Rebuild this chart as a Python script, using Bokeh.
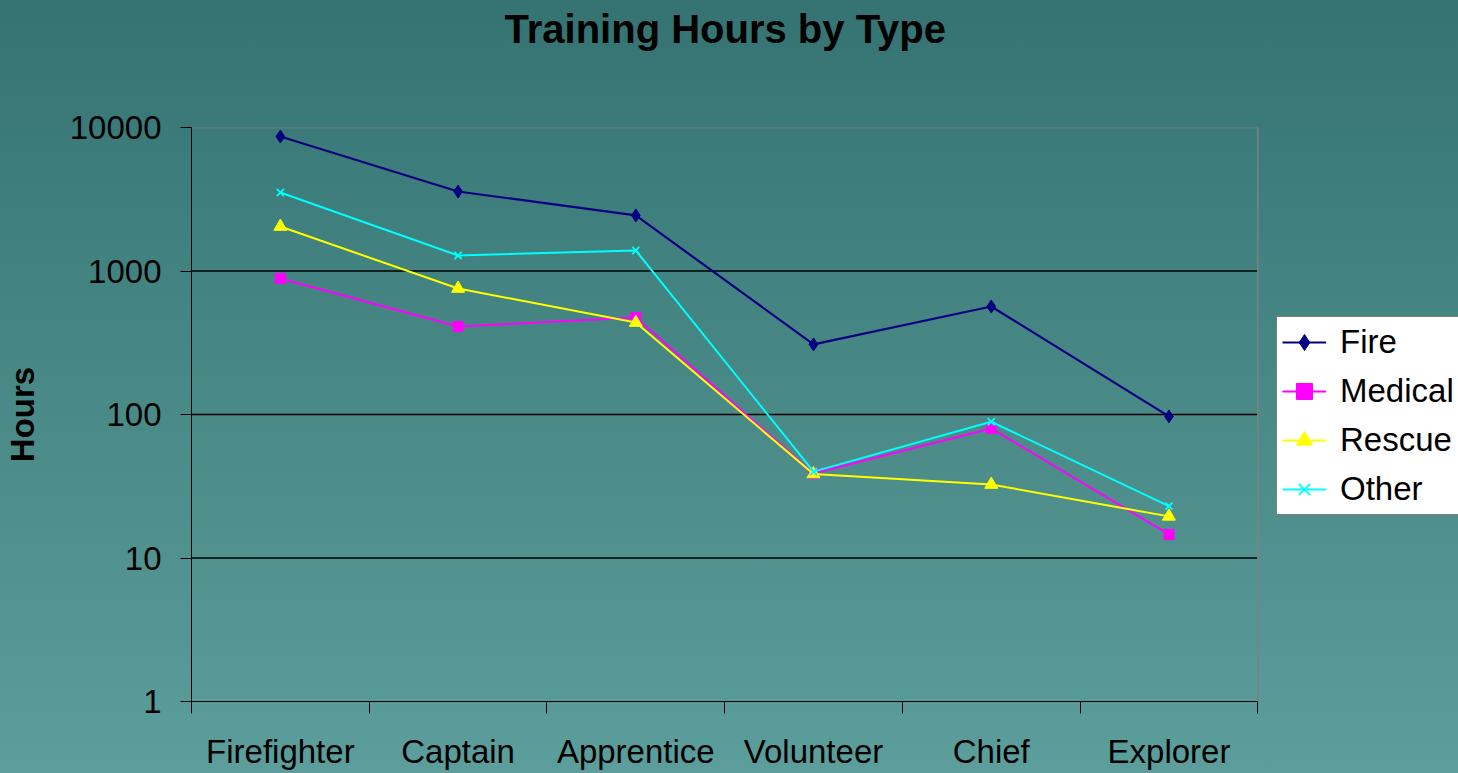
from bokeh.plotting import figure
from bokeh.models import (Range1d, FixedTicker, Legend, LegendItem, Title)
from bokeh.embed import file_html
from bokeh.resources import INLINE

categories = ["Firefighter", "Captain", "Apprentice", "Volunteer", "Chief", "Explorer"]
fire = [8650, 3580, 2440, 308, 566, 97]
medical = [887, 410, 474, 38.8, 80, 14.6]
rescue = [2040, 755, 437, 38.5, 32.5, 19.5]
other = [3525, 1283, 1390, 40, 89, 23]
y_ticks = [1, 10, 100, 1000, 10000]
grid_ticks = [10, 100, 1000]

n = len(categories)
xs = [i + 0.5 for i in range(n)]

# frame spans page x 189..1458; category area is 189..1257 (1068 px for n categories)
W, H = 1458, 773
FL, FT, FB, CAT_R = 189, 127, 701, 1257
x_end = n * (W - FL) / (CAT_R - FL)

p = figure(width=W, height=H, output_backend="svg", toolbar_location=None,
           y_axis_type="log", x_range=Range1d(0, x_end), y_range=Range1d(1, 10000),
           min_border_left=FL, min_border_right=0, min_border_top=0,
           min_border_bottom=H - FB)
p.margin = 0
p.styles = {"background": "linear-gradient(to bottom, #347371, #5c9e9b)"}
p.background_fill_alpha = 0
p.border_fill_alpha = 0
p.outline_line_color = None

p.title = Title(text="Training Hours by Type", align="left", offset=313,
                text_font="Liberation Sans", text_font_size="40px", text_font_style="bold",
                text_color="black", standoff=8)
spacer = Title(text=" ", text_font="Liberation Sans", text_font_size="40px",
               text_font_style="bold", standoff=27)
p.add_layout(spacer, "above")

# x axis (limited to the category area)
p.xaxis.bounds = (0, n)
p.xaxis.ticker = FixedTicker(ticks=xs, minor_ticks=list(range(n + 1)))
p.xaxis.major_label_overrides = {x: c for x, c in zip(xs, categories)}
p.xaxis.major_tick_line_color = None
p.xaxis.major_tick_out = 12
p.xaxis.major_tick_in = 0
p.xaxis.minor_tick_out = 12
p.xaxis.minor_tick_in = 0
p.xaxis.minor_tick_line_color = "black"
p.xaxis.axis_line_color = "black"
p.xaxis.major_label_text_font = "Liberation Sans"
p.xaxis.major_label_text_font_size = "33px"
p.xaxis.major_label_text_color = "black"
p.xaxis.major_label_standoff = 19
p.xgrid.visible = False

# y axis
p.yaxis.ticker = FixedTicker(ticks=y_ticks, minor_ticks=[])
p.yaxis.major_label_overrides = {t: str(t) for t in y_ticks}
p.yaxis.major_tick_out = 11
p.yaxis.major_tick_in = 0
p.yaxis.major_tick_line_color = "black"
p.yaxis.axis_line_color = "black"
p.yaxis.major_label_text_font = "Liberation Sans"
p.yaxis.major_label_text_font_size = "33px"
p.yaxis.major_label_text_color = "black"
p.yaxis.major_label_standoff = 19
p.yaxis.axis_label = "Hours"
p.yaxis.axis_label_text_font = "Liberation Sans"
p.yaxis.axis_label_text_font_size = "33px"
p.yaxis.axis_label_text_font_style = "bold"
p.yaxis.axis_label_text_color = "black"
p.yaxis.axis_label_standoff = 26
p.ygrid.visible = False

# horizontal gridlines and plot-area outline limited to the category area
p.segment(x0=[0] * len(grid_ticks), x1=[n] * len(grid_ticks), y0=grid_ticks, y1=grid_ticks,
          line_color="black", line_width=1.5)
p.segment(x0=[0, n], x1=[n, n], y0=[y_ticks[-1], y_ticks[0]], y1=[y_ticks[-1], y_ticks[-1]],
          line_color="#808080", line_width=1.5)

series = [
    ("Fire", fire, "#000080", "diamond", 13, 2.2),
    ("Medical", medical, "#FF00FF", "square", 10, 2),
    ("Rescue", rescue, "#FFFF00", "triangle", 13, 2),
    ("Other", other, "#00FFFF", "x", 10, 2),
]
items = []
for name, vals, col, mk, sz, lw in series:
    ln = p.line(xs, vals, line_color=col, line_width=lw)
    if mk == "x":
        sc = p.scatter(xs, vals, marker=mk, size=sz, line_color=col, line_width=1.8)
    else:
        sc = p.scatter(xs, vals, marker=mk, size=sz, fill_color=col, line_color=col)
    items.append(LegendItem(label=name, renderers=[ln, sc]))

legend = Legend(items=items, location=(1274 - FL, FB - 515), orientation="vertical",
                label_text_font="Liberation Sans", label_text_font_size="33px",
                label_text_color="black", glyph_width=44, glyph_height=40, label_height=40,
                spacing=9, padding=5, margin=0, label_standoff=14,
                border_line_color="black", border_line_width=1,
                background_fill_color="white", background_fill_alpha=1)
p.add_layout(legend, "center")

open("out.html", "w").write(file_html(p, INLINE))
